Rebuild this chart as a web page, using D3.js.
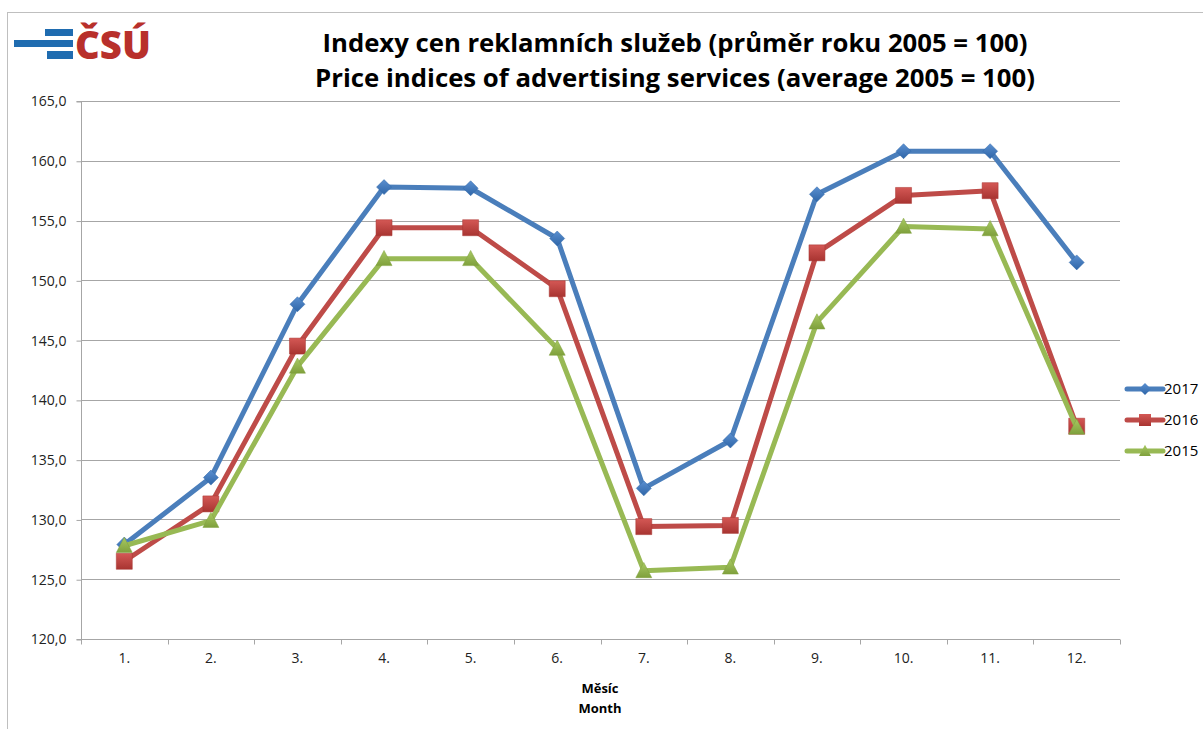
<!DOCTYPE html>
<html><head><meta charset="utf-8">
<script src="https://cdn.jsdelivr.net/npm/d3@7"></script>
<style>body{margin:0;background:#fff}svg{display:block}</style>
</head><body>
<script>
const months = ["1.","2.","3.","4.","5.","6.","7.","8.","9.","10.","11.","12."];
const values2017 = [127.9,133.5,148.0,157.8,157.7,153.5,132.6,136.6,157.2,160.8,160.8,151.5];
const values2016 = [126.5,131.3,144.5,154.4,154.4,149.3,129.4,129.5,152.3,157.1,157.5,137.8];
const values2015 = [127.8,129.9,142.8,151.8,151.8,144.3,125.7,126.0,146.5,154.5,154.3,137.7];
const seriesNames = ["2017","2016","2015"];
const yTicks = [120,125,130,135,140,145,150,155,160,165];

const W = 1203, H = 729;
const svg = d3.select("body").append("svg").attr("width", W).attr("height", H);
const font = "'Open Sans', 'Noto Sans', sans-serif";

// frame
svg.append("rect").attr("x",7.5).attr("y",12.5).attr("width",W).attr("height",H)
  .attr("fill","none").attr("stroke","#bfbfbf").attr("stroke-width",1);

// logo
const logo = svg.append("g");
logo.append("rect").attr("x",45).attr("y",29).attr("width",28).attr("height",7).attr("fill","#1f6cb0");
logo.append("rect").attr("x",14).attr("y",40).attr("width",59).attr("height",7).attr("fill","#1f6cb0");
logo.append("rect").attr("x",47).attr("y",51).attr("width",26).attr("height",8).attr("fill","#1f6cb0");
logo.append("text").attr("x",75).attr("y",59).text("ČSÚ")
  .attr("font-family","'Open Sans', sans-serif").attr("font-weight",800).attr("font-size",39)
  .attr("fill","#b8302b").attr("textLength",76).attr("lengthAdjust","spacingAndGlyphs");

// title
const title = svg.append("g").attr("font-family", font).attr("font-weight",700).attr("fill","#000").attr("text-anchor","middle");
title.append("text").attr("x",675).attr("y",52).attr("font-size",25).text("Indexy cen reklamních služeb (průměr roku 2005 = 100)")
  .attr("textLength",705).attr("lengthAdjust","spacingAndGlyphs");
title.append("text").attr("x",675).attr("y",87).attr("font-size",25).text("Price indices of advertising services (average 2005 = 100)")
  .attr("textLength",720).attr("lengthAdjust","spacingAndGlyphs");

const pLeft = 81, pRight = 1120, pTop = 101, pBottom = 639;
const x = d3.scaleBand().domain(months).range([pLeft,pRight]).padding(0);
const y = d3.scaleLinear().domain([120,165]).range([pBottom,pTop]);

// gridlines
svg.append("g").selectAll("line").data(yTicks.filter(t=>t>120)).join("line")
  .attr("x1",pLeft).attr("x2",pRight).attr("y1",d=>Math.round(y(d))+0.5).attr("y2",d=>Math.round(y(d))+0.5)
  .attr("stroke","#a6a6a6").attr("stroke-width",1);

// y axis
const yAxis = d3.axisLeft(y).tickValues(yTicks).tickSize(5).tickPadding(10)
  .tickFormat(d=>d3.format(".1f")(d).replace(".",","));
const gy = svg.append("g").attr("transform",`translate(${pLeft+0.5},0.5)`).call(yAxis);
gy.selectAll("path,line").attr("stroke","#a6a6a6");
gy.selectAll("text").attr("font-family",font).attr("font-size",14).attr("fill","#222");
gy.select(".domain").attr("d",`M-5,${pTop}H0V${pBottom}H-5`);

// x axis
const xAxis = d3.axisBottom(x).tickSize(0).tickPadding(14);
const gx = svg.append("g").attr("transform",`translate(0,${pBottom+0.5})`).call(xAxis);
gx.select(".domain").attr("stroke","#a6a6a6").attr("d",`M${pLeft},0H${pRight}`);
gx.selectAll("text").attr("font-family",font).attr("font-size",14).attr("fill","#222");
const boundaries = months.map(m=>x(m)).concat([pRight]);
gx.append("g").selectAll("line").data(boundaries).join("line")
  .attr("x1",d=>Math.round(d)+0.5).attr("x2",d=>Math.round(d)+0.5).attr("y1",0).attr("y2",5)
  .attr("stroke","#a6a6a6");

// axis titles
const at = svg.append("g").attr("font-family",font).attr("font-weight",700).attr("font-size",13).attr("text-anchor","middle").attr("fill","#000");
at.append("text").attr("x",600).attr("y",693).text("Měsíc");
at.append("text").attr("x",600).attr("y",713).text("Month");

// series
const colors = {"2017":"#4a7ebb","2016":"#be4b48","2015":"#98b954"};
const dark = {"2017":"#2f66a8","2016":"#a83431","2015":"#7fa03c"};
const light = {"2017":"#5a8fd0","2016":"#d45855","2015":"#a8c963"};
const data = {"2017":values2017,"2016":values2016,"2015":values2015};
const markerType = {"2017":"diamond","2016":"square","2015":"triangle"};

const defs = svg.append("defs");
seriesNames.forEach(s=>{
  const g = defs.append("linearGradient").attr("id","grad"+s).attr("x1",0).attr("y1",0).attr("x2",0).attr("y2",1);
  g.append("stop").attr("offset","0%").attr("stop-color",light[s]);
  g.append("stop").attr("offset","100%").attr("stop-color",dark[s]);
});

function markerPath(type, size){
  const h = size/2;
  if(type==="diamond") return `M0,${-h}L${h},0L0,${h}L${-h},0Z`;
  if(type==="square") return `M${-h},${-h}H${h}V${h}H${-h}Z`;
  return `M0,${-h*1.05}L${h},${h*0.85}L${-h},${h*0.85}Z`;
}
const sizes = {"diamond":15,"square":16,"triangle":16};

const line = d3.line().x((d,i)=>x(months[i])+x.bandwidth()/2).y(d=>y(d));
seriesNames.forEach(s=>{
  const g = svg.append("g");
  g.append("path").datum(data[s]).attr("d",line).attr("fill","none")
    .attr("stroke",colors[s]).attr("stroke-width",5).attr("stroke-linejoin","round");
  g.selectAll("path.m").data(data[s]).join("path").attr("class","m")
    .attr("transform",(d,i)=>`translate(${x(months[i])+x.bandwidth()/2},${y(d)})`)
    .attr("d",markerPath(markerType[s],sizes[markerType[s]]))
    .attr("fill",`url(#grad${s})`).attr("stroke",dark[s]).attr("stroke-width",0.5);
});

// legend
const lg = svg.append("g").attr("font-family",font).attr("font-size",15);
const legendY = [389,420,451];
seriesNames.forEach((s,i)=>{
  const g = lg.append("g").attr("transform",`translate(0,${legendY[i]})`);
  g.append("line").attr("x1",1127).attr("x2",1163).attr("y1",0).attr("y2",0)
    .attr("stroke",colors[s]).attr("stroke-width",5).attr("stroke-linecap","round");
  g.append("path").attr("transform","translate(1145,0)").attr("d",markerPath(markerType[s],12))
    .attr("fill",`url(#grad${s})`);
  g.append("text").attr("x",1164).attr("y",5).text(s).attr("fill","#000");
});
</script>
</body></html>
